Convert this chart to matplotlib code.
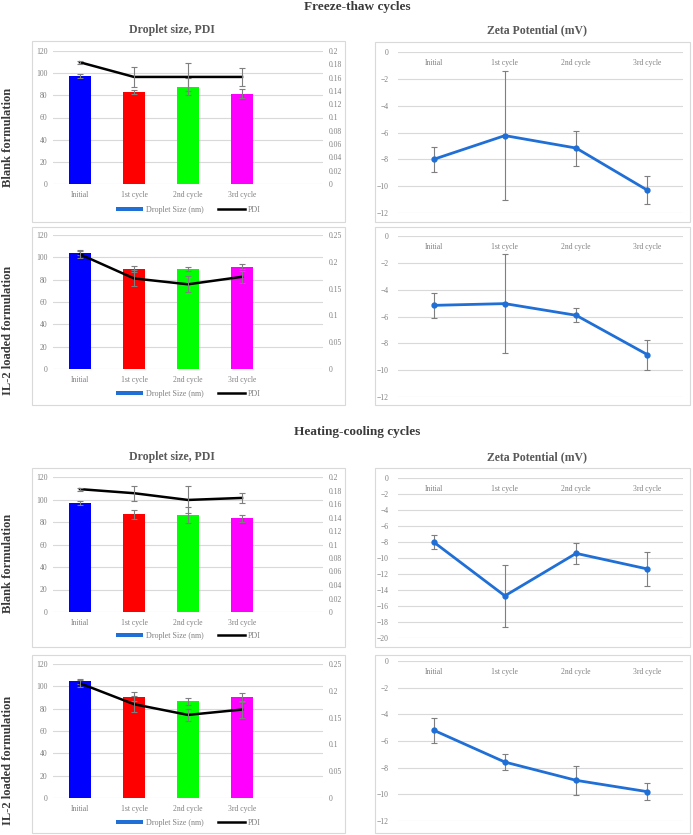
import matplotlib
matplotlib.use('Agg')
from matplotlib import pyplot as plt
from matplotlib.patches import Rectangle, Patch
from matplotlib.lines import Line2D
from matplotlib.ticker import MultipleLocator
import numpy as np

W, H = 693, 835

categories = ['Initial', '1st cycle', '2nd cycle', '3rd cycle']
bar_colors = ['#0000FF', '#FF0000', '#00FF00', '#FF00FF']

# freeze-thaw, blank
ft_blank_size = [97.4, 83.2, 87.7, 81.4]
ft_blank_size_err = [1.7, 2.0, 7.5, 4.0]
ft_blank_pdi = [0.183, 0.161, 0.161, 0.161]
ft_blank_pdi_err = [0.002, 0.0155, 0.0215, 0.014]
ft_blank_zeta = [-8.0, -6.23, -7.16, -10.3]
ft_blank_zeta_err = [0.93, 4.83, 1.3, 1.05]

# freeze-thaw, IL-2 loaded
ft_il2_size = [104.2, 89.5, 89.5, 91.6]
ft_il2_size_err = [2.5, 2.5, 2.0, 2.0]
ft_il2_pdi = [0.214, 0.169, 0.158, 0.172]
ft_il2_pdi_err = [0.006, 0.015, 0.015, 0.011]
ft_il2_zeta = [-5.17, -5.04, -5.91, -8.84]
ft_il2_zeta_err = [0.93, 3.67, 0.52, 1.12]

# heating-cooling, blank
hc_blank_size = [96.8, 87.0, 86.4, 83.4]
hc_blank_size_err = [2.0, 4.0, 7.0, 3.0]
hc_blank_pdi = [0.182, 0.176, 0.166, 0.169]
hc_blank_pdi_err = [0.002, 0.011, 0.020, 0.008]
hc_blank_zeta = [-8.0, -14.73, -9.42, -11.37]
hc_blank_zeta_err = [0.9, 3.9, 1.3, 2.1]

# heating-cooling, IL-2 loaded
hc_il2_size = [104.5, 90.7, 86.6, 90.1]
hc_il2_size_err = [2.5, 4.0, 3.0, 4.0]
hc_il2_pdi = [0.214, 0.175, 0.155, 0.165]
hc_il2_pdi_err = [0.006, 0.015, 0.011, 0.016]
hc_il2_zeta = [-5.19, -7.58, -8.95, -9.8]
hc_il2_zeta_err = [0.93, 0.6, 1.07, 0.62]

plt.rcParams['font.family'] = ['Liberation Serif', 'DejaVu Serif']

TICK_C = '#808080'
GRID_C = '#d9d9d9'
ERR_C = '#7f7f7f'
LINE_BLUE = '#1f6fd6'


def rect(x0, y0, x1, y1):
    return [x0 / W, 1 - y1 / H, (x1 - x0) / W, (y1 - y0) / H]


def chart_box(fig, x0, y0, x1, y1):
    fig.patches.append(Rectangle((x0 / W, 1 - y1 / H), (x1 - x0) / W, (y1 - y0) / H,
                                 transform=fig.transFigure, fill=False,
                                 edgecolor=GRID_C, lw=0.8))


def style_axis(ax):
    for s in ax.spines.values():
        s.set_visible(False)
    ax.tick_params(length=0, labelsize=5.5, colors=TICK_C)


def size_panel(fig, box, plot, legend_y, size, size_err, pdi, pdi_err, pdi_max, pdi_step):
    chart_box(fig, *box)
    ax = fig.add_axes(rect(*plot))
    x = np.arange(len(categories))
    ax.bar(x, size, width=0.4, color=bar_colors, zorder=2)
    ax.errorbar(x, size, yerr=size_err, fmt='none', ecolor=ERR_C, elinewidth=0.8,
                capsize=2, capthick=0.8, zorder=3)
    ax.set_xlim(-0.5, 4.5)
    ax.set_ylim(0, 120)
    ax.yaxis.set_major_locator(MultipleLocator(20))
    ax.set_xticks(x)
    ax.set_xticklabels(categories)
    ax.grid(axis='y', color=GRID_C, lw=0.8, zorder=0)
    ax.set_axisbelow(True)
    style_axis(ax)
    ax.tick_params(axis='y', pad=4)
    ax.tick_params(axis='x', pad=5)

    ax2 = ax.twinx()
    ax2.plot(x, pdi, color='black', lw=1.8, zorder=4)
    ax2.errorbar(x, pdi, yerr=pdi_err, fmt='none', ecolor=ERR_C, elinewidth=0.8,
                 capsize=2, capthick=0.8, zorder=5)
    ax2.set_ylim(0, pdi_max)
    ax2.yaxis.set_major_locator(MultipleLocator(pdi_step))
    ax2.yaxis.set_major_formatter(plt.FuncFormatter(lambda v, p: f'{v:g}'))
    style_axis(ax2)
    ax2.tick_params(axis='y', pad=4)

    handles = [Patch(facecolor=LINE_BLUE, edgecolor='none'),
               Line2D([0], [0], color='black', lw=1.8)]
    cx = (plot[0] + plot[2]) / 2
    ax.legend(handles, ['Droplet Size (nm)', 'PDI'], loc='center',
              bbox_to_anchor=(cx / W, 1 - legend_y / H), bbox_transform=fig.transFigure,
              ncol=2, frameon=False, fontsize=5.8, handlelength=3.4, handleheight=0.5,
              columnspacing=1.8, handletextpad=0.3, labelcolor=TICK_C)


def zeta_panel(fig, box, plot, zeta, zeta_err, ymin):
    chart_box(fig, *box)
    ax = fig.add_axes(rect(*plot))
    x = np.arange(len(categories))
    ax.errorbar(x, zeta, yerr=zeta_err, fmt='none', ecolor=ERR_C, elinewidth=0.8,
                capsize=2, capthick=0.8, zorder=2)
    ax.plot(x, zeta, color=LINE_BLUE, lw=2, marker='o', markersize=3.5, zorder=3)
    ax.set_xlim(-0.5, 3.5)
    ax.set_ylim(ymin, 0)
    ax.yaxis.set_major_locator(MultipleLocator(2))
    ax.grid(axis='y', color=GRID_C, lw=0.8, zorder=0)
    ax.set_axisbelow(True)
    style_axis(ax)
    ax.tick_params(axis='y', pad=7)
    ax.xaxis.tick_top()
    ax.set_xticks(x)
    ax.set_xticklabels(categories)
    ax.tick_params(axis='x', pad=-11)


fig = plt.figure(figsize=(W / 100, H / 100), dpi=100)

title_c = '#3a3a3a'
sub_c = '#595959'
fig.text(357 / W, 1 - 7 / H, 'Freeze-thaw cycles', ha='center', va='center',
         fontsize=9.5, fontweight='bold', color=title_c)
fig.text(357 / W, 1 - 432 / H, 'Heating-cooling cycles', ha='center', va='center',
         fontsize=9.5, fontweight='bold', color=title_c)
for yy in (30, 457):
    fig.text(172 / W, 1 - yy / H, 'Droplet size, PDI', ha='center', va='center',
             fontsize=8.5, fontweight='bold', color=sub_c)
    fig.text(537 / W, 1 - yy / H, 'Zeta Potential (mV)', ha='center', va='center',
             fontsize=8.5, fontweight='bold', color=sub_c)

for yy, lab in ((137, 'Blank formulation'), (330, 'IL-2 loaded formulation'),
                (563, 'Blank formulation'), (760, 'IL-2 loaded formulation')):
    fig.text(8 / W, 1 - yy / H, lab, ha='center', va='center', rotation=90,
             fontsize=9, fontweight='bold', color=title_c)

size_panel(fig, (32, 41, 345, 222), (53, 51, 323, 184), 210,
           ft_blank_size, ft_blank_size_err, ft_blank_pdi, ft_blank_pdi_err, 0.2, 0.02)
size_panel(fig, (32, 227, 345, 405), (53, 235, 323, 369), 394,
           ft_il2_size, ft_il2_size_err, ft_il2_pdi, ft_il2_pdi_err, 0.25, 0.05)
size_panel(fig, (32, 468, 345, 647), (53, 477, 323, 612), 636,
           hc_blank_size, hc_blank_size_err, hc_blank_pdi, hc_blank_pdi_err, 0.2, 0.02)
size_panel(fig, (32, 655, 345, 833), (53, 664, 323, 798), 823,
           hc_il2_size, hc_il2_size_err, hc_il2_pdi, hc_il2_pdi_err, 0.25, 0.05)

zeta_panel(fig, (375, 42, 690, 222), (398, 52, 683, 213), ft_blank_zeta, ft_blank_zeta_err, -12)
zeta_panel(fig, (375, 227, 690, 405), (398, 236, 683, 397), ft_il2_zeta, ft_il2_zeta_err, -12)
zeta_panel(fig, (375, 468, 690, 647), (398, 478, 683, 638), hc_blank_zeta, hc_blank_zeta_err, -20)
zeta_panel(fig, (375, 655, 690, 833), (398, 661, 683, 821), hc_il2_zeta, hc_il2_zeta_err, -12)

fig.savefig('out.png', dpi=100)
